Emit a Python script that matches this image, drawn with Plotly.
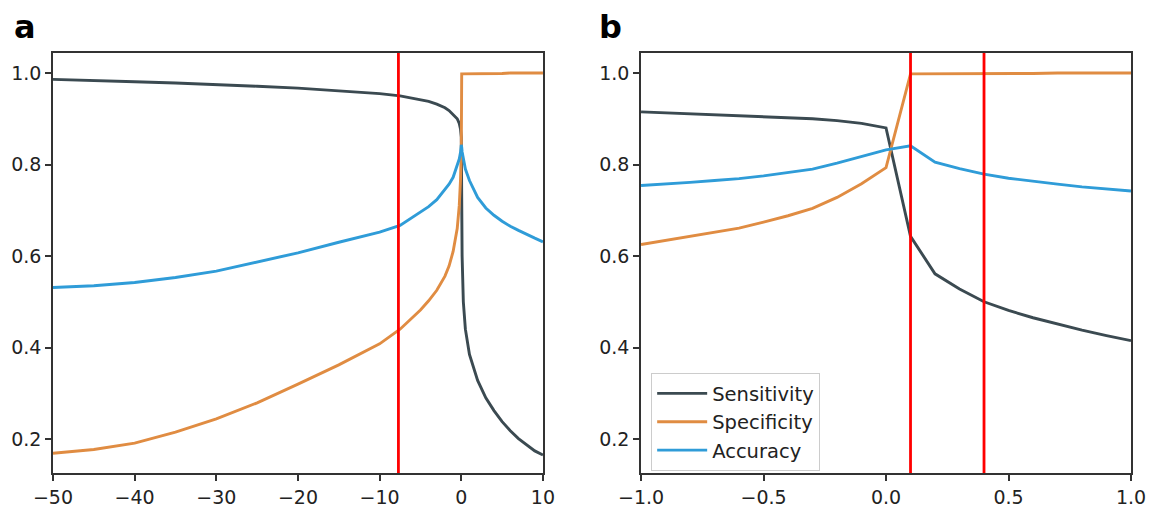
import plotly.graph_objects as go
from plotly.subplots import make_subplots

# ---------- Panel a data ----------
xa = [-50, -45, -40, -35, -30, -25, -20, -15, -10, -7.5, -5, -4, -3, -2, -1.5, -1, -0.5, -0.25, -0.1, 0,
      0.05, 0.1, 0.25, 0.5, 1, 1.5, 2, 3, 4, 5, 6, 7, 8, 9, 10]
sens_a = [0.986, 0.984, 0.981, 0.978, 0.975, 0.971, 0.967, 0.961, 0.955, 0.950, 0.942, 0.938, 0.932, 0.924,
          0.918, 0.910, 0.900, 0.890, 0.878, 0.860,
          0.700, 0.600, 0.500, 0.440, 0.385, 0.355, 0.328, 0.290, 0.262, 0.238, 0.218, 0.201, 0.187, 0.174, 0.165]
spec_a = [0.169, 0.177, 0.191, 0.215, 0.244, 0.279, 0.320, 0.362, 0.408, 0.440, 0.482, 0.502, 0.525, 0.556,
          0.578, 0.610, 0.660, 0.710, 0.765, 0.830,
          0.998, 0.998, 0.998, 0.998, 0.999, 0.999, 0.999, 0.999, 0.999, 0.999, 1.0, 1.0, 1.0, 1.0, 1.0]
acc_a = [0.531, 0.535, 0.542, 0.553, 0.567, 0.587, 0.607, 0.630, 0.652, 0.667, 0.695, 0.708, 0.723, 0.745,
         0.757, 0.772, 0.797, 0.812, 0.826, 0.843,
         0.838, 0.828, 0.810, 0.790, 0.765, 0.745, 0.728, 0.705, 0.689, 0.676, 0.665, 0.656, 0.647, 0.639, 0.631]
cut_a = [-7.7]

# ---------- Panel b data ----------
xb = [-1.0, -0.9, -0.8, -0.7, -0.6, -0.5, -0.4, -0.3, -0.2, -0.1, 0.0,
      0.1, 0.2, 0.3, 0.4, 0.5, 0.6, 0.7, 0.8, 0.9, 1.0]
sens_b = [0.915, 0.913, 0.911, 0.909, 0.907, 0.905, 0.903, 0.900, 0.896, 0.890, 0.880,
          0.643, 0.561, 0.528, 0.500, 0.481, 0.465, 0.451, 0.438, 0.426, 0.415]
spec_b = [0.625, 0.634, 0.643, 0.652, 0.661, 0.674, 0.688, 0.704, 0.728, 0.758, 0.793,
          0.998, 0.998, 0.999, 0.999, 0.999, 0.999, 1.0, 1.0, 1.0, 1.0]
acc_b = [0.754, 0.757, 0.761, 0.765, 0.769, 0.775, 0.782, 0.790, 0.803, 0.817, 0.832,
         0.841, 0.805, 0.791, 0.779, 0.770, 0.763, 0.757, 0.751, 0.746, 0.742]
cut_b = [0.1, 0.4]

names = ["Sensitivity", "Specificity", "Accuracy"]
colors = ["#3b4a51", "#e08c42", "#2f9cd8"]

fig = make_subplots(rows=1, cols=2, horizontal_spacing=0.091)

for i, (ya, yb) in enumerate(zip([sens_a, spec_a, acc_a], [sens_b, spec_b, acc_b])):
    fig.add_trace(go.Scatter(x=xa, y=ya, mode="lines", name=names[i], legendgroup=names[i],
                             showlegend=False, line=dict(color=colors[i], width=2.9)), row=1, col=1)
    fig.add_trace(go.Scatter(x=xb, y=yb, mode="lines", name=names[i], legendgroup=names[i],
                             showlegend=True, line=dict(color=colors[i], width=2.9)), row=1, col=2)

for c in cut_a:
    fig.add_vline(x=c, line=dict(color="#ff0000", width=2.8), row=1, col=1)
for c in cut_b:
    fig.add_vline(x=c, line=dict(color="#ff0000", width=2.8), row=1, col=2)

axis_style = dict(showline=True, mirror=True, linecolor="#333333", linewidth=1.6,
                  ticks="outside", ticklen=6, tickwidth=1.6, tickcolor="#333333",
                  showgrid=False, zeroline=False, automargin=False,
                  tickfont=dict(family="DejaVu Sans", size=19, color="#222222"))
yr = [0.1257, 1.0437]
fig.update_xaxes(**axis_style)
fig.update_yaxes(**axis_style)
fig.update_xaxes(range=[-50, 10], tickvals=[-50, -40, -30, -20, -10, 0, 10], row=1, col=1)
fig.update_xaxes(range=[-1, 1], tickvals=[-1.0, -0.5, 0.0, 0.5, 1.0], tickformat=".1f", row=1, col=2)
fig.update_yaxes(range=yr, tickvals=[0.2, 0.4, 0.6, 0.8, 1.0], tickformat=".1f")

fig.add_annotation(text="<b>a</b>", xref="paper", yref="paper", x=-0.038, y=1.062,
                   xanchor="left", yanchor="middle", showarrow=False,
                   font=dict(family="DejaVu Sans", size=32, color="black"))
fig.add_annotation(text="<b>b</b>", xref="paper", yref="paper", x=0.5045, y=1.062,
                   xanchor="left", yanchor="middle", showarrow=False,
                   font=dict(family="DejaVu Sans", size=32, color="black"))

fig.update_layout(
    width=1150, height=508,
    margin=dict(l=53, r=19, t=53, b=35),
    paper_bgcolor="white", plot_bgcolor="white",
    font=dict(family="DejaVu Sans", color="#222222"),
    legend=dict(x=0.5547, y=0.238, xanchor="left", yanchor="top",
                font=dict(family="DejaVu Sans", size=19.5, color="#222222"),
                bgcolor="white", bordercolor="#cccccc", borderwidth=1.2,
                itemwidth=50, tracegroupgap=0),
)

fig.write_html("out.html")
